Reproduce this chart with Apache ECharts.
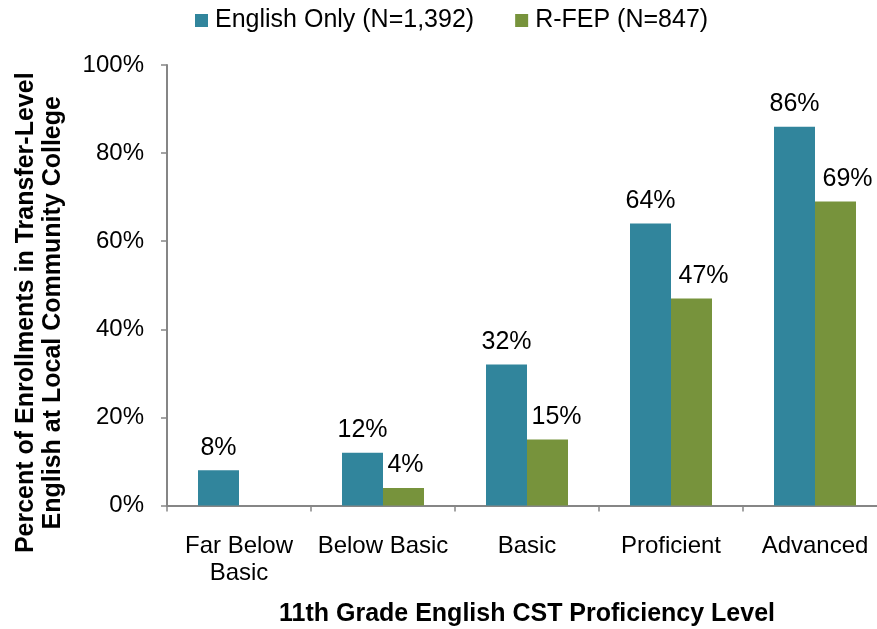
<!DOCTYPE html>
<html>
<head>
<meta charset="utf-8">
<script src="https://cdn.jsdelivr.net/npm/echarts@6/dist/echarts.min.js"></script>
<style>html,body{margin:0;padding:0;background:#fff;}#c{width:877px;height:629px;}</style>
</head>
<body>
<div id="c"></div>
<script>
const categories = ["Far Below\nBasic", "Below Basic", "Basic", "Proficient", "Advanced"];
const englishOnly = [8, 12, 32, 64, 86];
const rfep = [null, 4, 15, 47, 69];
const seriesNames = ["English Only (N=1,392)", "R-FEP (N=847)"];
const yTicks = [0, 20, 40, 60, 80, 100];
// horizontal nudges of the R-FEP value labels, as placed in the original
const rfepLabelShift = [0, 2, 9, 12, 12];

const chart = echarts.init(document.getElementById('c'), null, {renderer: 'canvas'});
const font = "'Liberation Sans', Arial, sans-serif";
const lbl = {
  show: true, position: 'top', distance: 10,
  formatter: p => p.value == null ? '' : p.value + '%',
  fontFamily: font, fontSize: 25, color: '#000'
};
const rfepData = rfep.map((v, i) => ({value: v, label: {offset: [rfepLabelShift[i], 0]}}));
chart.setOption({
  animation: false,
  backgroundColor: '#fff',
  textStyle: {fontFamily: font},
  legend: {
    top: 3, left: 190, itemWidth: 13, itemHeight: 13, itemGap: 41,
    icon: 'rect',
    textStyle: {fontFamily: font, fontSize: 25, color: '#000', padding: [0, 0, 0, 2]},
    data: seriesNames
  },
  grid: {left: 167, right: -10, top: 65, bottom: 123.5, outerBoundsMode: 'none', containLabel: false},
  xAxis: {
    type: 'category',
    data: categories,
    axisLine: {lineStyle: {color: '#868686', width: 2}},
    axisTick: {show: true, length: 6, lineStyle: {color: '#868686', width: 1.5}},
    axisLabel: {fontFamily: font, fontSize: 24, color: '#000', margin: 27, lineHeight: 27, interval: 0},
    name: '11th Grade English CST Proficiency Level',
    nameLocation: 'middle',
    nameGap: 96,
    nameTextStyle: {fontFamily: font, fontSize: 25, fontWeight: 'bold', color: '#000', verticalAlign: 'top'}
  },
  yAxis: {
    type: 'value', min: 0, max: 100, interval: 20,
    axisLine: {show: true, lineStyle: {color: '#868686', width: 2}},
    axisTick: {show: true, length: 6, lineStyle: {color: '#868686', width: 1.5}},
    splitLine: {show: false},
    axisLabel: {
      fontFamily: font, fontSize: 24, color: '#000', margin: 23,
      formatter: v => yTicks.includes(v) ? v + '%' : ''
    },
    name: 'Percent of Enrollments in Transfer-Level\nEnglish at Local Community College',
    nameLocation: 'middle',
    nameGap: 100,
    nameRotate: 90,
    nameTextStyle: {fontFamily: font, fontSize: 25, fontWeight: 'bold', color: '#000', lineHeight: 27, padding: [0, 55, 0, 0]}
  },
  series: [
    {name: seriesNames[0], type: 'bar', data: englishOnly, barWidth: 41, barGap: '0%',
     itemStyle: {color: '#31859C'}, label: lbl},
    {name: seriesNames[1], type: 'bar', data: rfepData, barWidth: 41, barGap: '0%',
     itemStyle: {color: '#77933C'}, label: lbl}
  ]
});
</script>
</body>
</html>
